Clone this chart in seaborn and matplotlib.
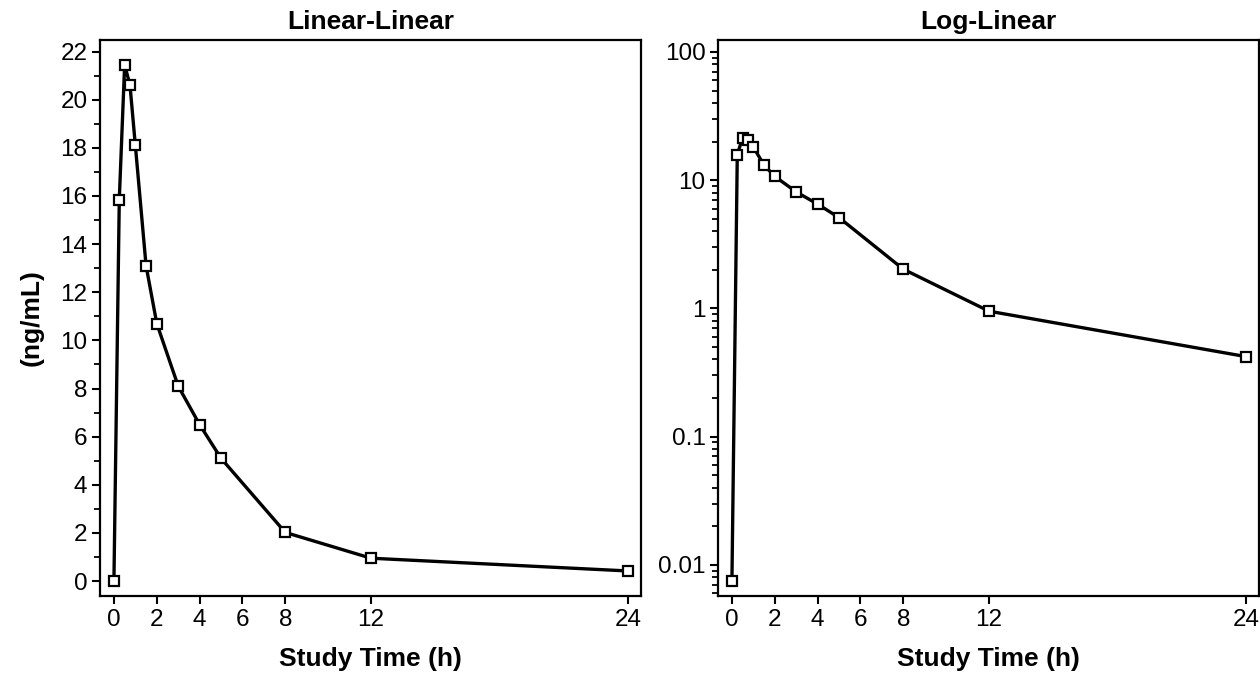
import matplotlib
matplotlib.use("Agg")
import matplotlib.pyplot as plt
import matplotlib.ticker as mticker
import seaborn as sns
import pandas as pd

# Data
time_h = [0, 0.25, 0.5, 0.75, 1, 1.5, 2, 3, 4, 5, 8, 12, 24]
conc_ng_ml = [0.0075, 15.85, 21.45, 20.6, 18.1, 13.1, 10.7, 8.1, 6.5, 5.1, 2.02, 0.95, 0.42]
x_ticks = [0, 2, 4, 6, 8, 12, 24]
lin_y_ticks = [0, 2, 4, 6, 8, 10, 12, 14, 16, 18, 20, 22]
log_y_ticks = [0.01, 0.1, 1, 10, 100]
titles = ["Linear-Linear", "Log-Linear"]
x_label = "Study Time (h)"
y_label = "(ng/mL)"

df = pd.DataFrame({"time": time_h, "conc": conc_ng_ml})

sns.set_theme(style="ticks")
plt.rcParams["font.family"] = ["Liberation Sans", "DejaVu Sans"]
plt.rcParams["text.color"] = "black"
plt.rcParams["axes.labelcolor"] = "black"
plt.rcParams["xtick.color"] = "black"
plt.rcParams["ytick.color"] = "black"

fig = plt.figure(figsize=(12.6, 6.74), dpi=100)
W, H = 1260, 674
ax1 = fig.add_axes([100 / W, (H - 596) / H, 541 / W, 556 / H])
ax2 = fig.add_axes([718 / W, (H - 596) / H, 541 / W, 556 / H])

line_kw = dict(color="black", linewidth=2.4, marker="s", markersize=7.5,
               markerfacecolor="white", markeredgecolor="black",
               markeredgewidth=1.6)

for ax, title in zip([ax1, ax2], titles):
    sns.lineplot(data=df, x="time", y="conc", ax=ax, **line_kw)
    ax.set_title(title, fontsize=19, fontweight="bold", pad=8, color="black")
    ax.set_xlabel(x_label, fontsize=19, fontweight="bold", labelpad=12, color="black")
    ax.set_xlim(-0.65, 24.6)
    ax.set_xticks(x_ticks)
    ax.set_xticklabels([str(t) for t in x_ticks])
    for s in ax.spines.values():
        s.set_linewidth(1.6)
        s.set_color("black")
    ax.tick_params(axis="both", which="major", labelsize=17.5, width=1.5,
                   length=6, color="black", labelcolor="black", direction="out", pad=3)
    ax.tick_params(axis="y", which="minor", width=1.3, length=4,
                   color="black", direction="out")

# Linear panel
ax1.set_ylim(-0.62, 22.48)
ax1.set_yticks(lin_y_ticks)
ax1.set_yticklabels([str(v) for v in lin_y_ticks])
ax1.yaxis.set_minor_locator(mticker.MultipleLocator(1))
ax1.set_ylabel(y_label, fontsize=19, fontweight="bold", labelpad=12, color="black")

# Log panel
ax2.set_yscale("log")
ax2.set_ylim(0.0057, 124)
ax2.set_yticks(log_y_ticks)
ax2.set_yticklabels(["%g" % v for v in log_y_ticks])
ax2.yaxis.set_minor_locator(mticker.LogLocator(base=10, subs=range(2, 10)))
ax2.yaxis.set_minor_formatter(mticker.NullFormatter())
ax2.set_ylabel("")

fig.savefig("out.png", dpi=100)
